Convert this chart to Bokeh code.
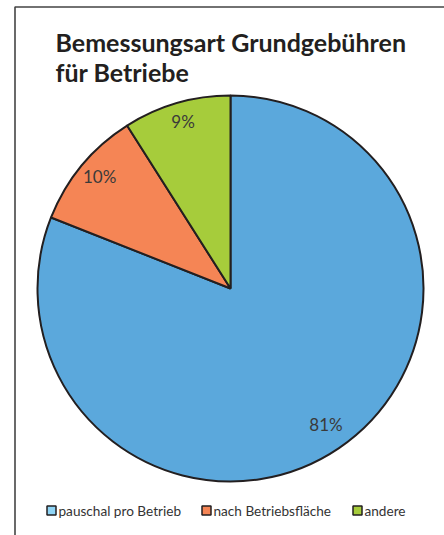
import math
from bokeh.plotting import figure
from bokeh.models import Range1d, ColumnDataSource
from bokeh.core.properties import value
from bokeh.embed import file_html
from bokeh.resources import INLINE

# ---- data ----
categories = ["pauschal pro Betrieb", "nach Betriebsfläche", "andere"]
shares = [81, 10, 9]
labels = ["81%", "10%", "9%"]
colors = ["#5ba8dc", "#f58555", "#a6cc3b"]
legend_colors = ["#8fd4f5", "#f58555", "#a6cc3b"]
title_lines = ["Bemessungsart Grundgebühren", "für Betriebe"]

W, H = 444, 535
p = figure(width=W, height=H, x_range=Range1d(0, W), y_range=Range1d(0, H),
           output_backend="svg", toolbar_location=None, min_border=0)
p.axis.visible = False
p.grid.visible = False
p.outline_line_color = None
p.background_fill_color = "white"
p.border_fill_color = "white"

def Y(y):
    return H - y

# frame
p.line(x=[14.5, 14.5, W], y=[Y(H), Y(6.5), Y(6.5)], line_color="#444444", line_width=1.6)

# title
p.text(x=[55, 55], y=[Y(41), Y(71)], text=title_lines,
       text_font=value("Lato"), text_font_style="bold", text_font_size="25px",
       text_color="#231f20", text_baseline="alphabetic", text_align="left")

# pie
cx, cy, R = 230, Y(288), 193
total = sum(shares)
starts, ends, lx, ly = [], [], [], []
acc = 0.0
for s in shares:
    a0 = math.pi / 2 - 2 * math.pi * acc / total
    a1 = math.pi / 2 - 2 * math.pi * (acc + s) / total
    starts.append(a0)
    ends.append(a1)
    mid = (a0 + a1) / 2
    lx.append(cx + 0.88 * R * math.cos(mid))
    ly.append(cy + 0.88 * R * math.sin(mid) + 4)
    acc += s

src = ColumnDataSource(dict(start=starts, end=ends, color=colors, lx=lx, ly=ly, label=labels))
p.wedge(x=cx, y=cy, radius=R, start_angle="start", end_angle="end", direction="clock",
        fill_color="color", line_color="#231f20", line_width=2, source=src)
p.text(x="lx", y="ly", text="label", source=src, text_font=value("Lato"),
       text_font_size="17px", text_color="#3a3a3a", text_align="center",
       text_baseline="middle")

# legend
sq_x = [51, 206, 357]
leg_y = Y(510)
p.rect(x=sq_x, y=[leg_y] * 3, width=9, height=9, fill_color=legend_colors,
       line_color="#231f20", line_width=1.5)
p.text(x=[x + 7 for x in sq_x], y=[leg_y] * 3, text=categories,
       text_font=value("Lato"), text_font_size="13.6px", text_color="#333333",
       text_baseline="middle", text_align="left")

open("out.html", "w").write(file_html(p, INLINE))
